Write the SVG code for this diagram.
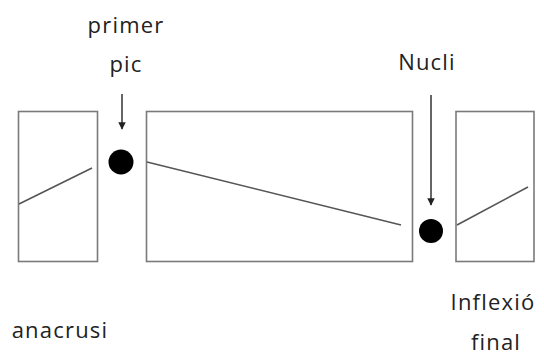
<svg xmlns="http://www.w3.org/2000/svg" width="544" height="356" viewBox="0 0 544 356">
<defs>
<style>
.box{fill:#fff;stroke:#7a7a7a;stroke-width:1.6}
.pl{stroke:#555;stroke-width:1.6;fill:none}
.dot{fill:#000}
.lbl{font-family:"Open Sans","Liberation Sans",sans-serif;font-size:22px;letter-spacing:1.2px;fill:#222;text-anchor:middle}
.arr{stroke:#333;stroke-width:1.5;fill:none}
</style>
<marker id="ah" viewBox="0 0 10 10" refX="9" refY="5" markerWidth="5" markerHeight="5" orient="auto">
<path d="M0,0 L10,5 L0,10 z" fill="#222"/>
</marker>
</defs>
<rect width="544" height="356" fill="#fff"/>
<g id="anacrusi">
<rect class="box" x="18.5" y="111.5" width="79" height="150"/>
<line class="pl" x1="19" y1="204" x2="92" y2="168"/>
<text class="lbl" x="60" y="338">anacrusi</text>
</g>
<g id="primer-pic">
<circle class="dot" cx="121" cy="162" r="12.5"/>
<text class="lbl" x="126" y="33">primer</text>
<text class="lbl" x="126" y="72">pic</text>
</g>
<g id="cos">
<rect class="box" x="146.5" y="111.5" width="266" height="150"/>
<line class="pl" x1="147" y1="162" x2="401" y2="225"/>
</g>
<g id="nucli">
<circle class="dot" cx="431" cy="231" r="12"/>
<text class="lbl" x="427" y="70">Nucli</text>
</g>
<g id="inflexio-final">
<rect class="box" x="456" y="111.5" width="78" height="150"/>
<line class="pl" x1="457" y1="225" x2="528" y2="187"/>
<text class="lbl" x="493" y="310">Inflexió</text>
<text class="lbl" x="496" y="350">final</text>
</g>
<g id="connectors">
<line class="arr" x1="122" y1="94" x2="122" y2="129" marker-end="url(#ah)"/>
<line class="arr" x1="431" y1="95" x2="431" y2="205" marker-end="url(#ah)"/>
</g>
</svg>
